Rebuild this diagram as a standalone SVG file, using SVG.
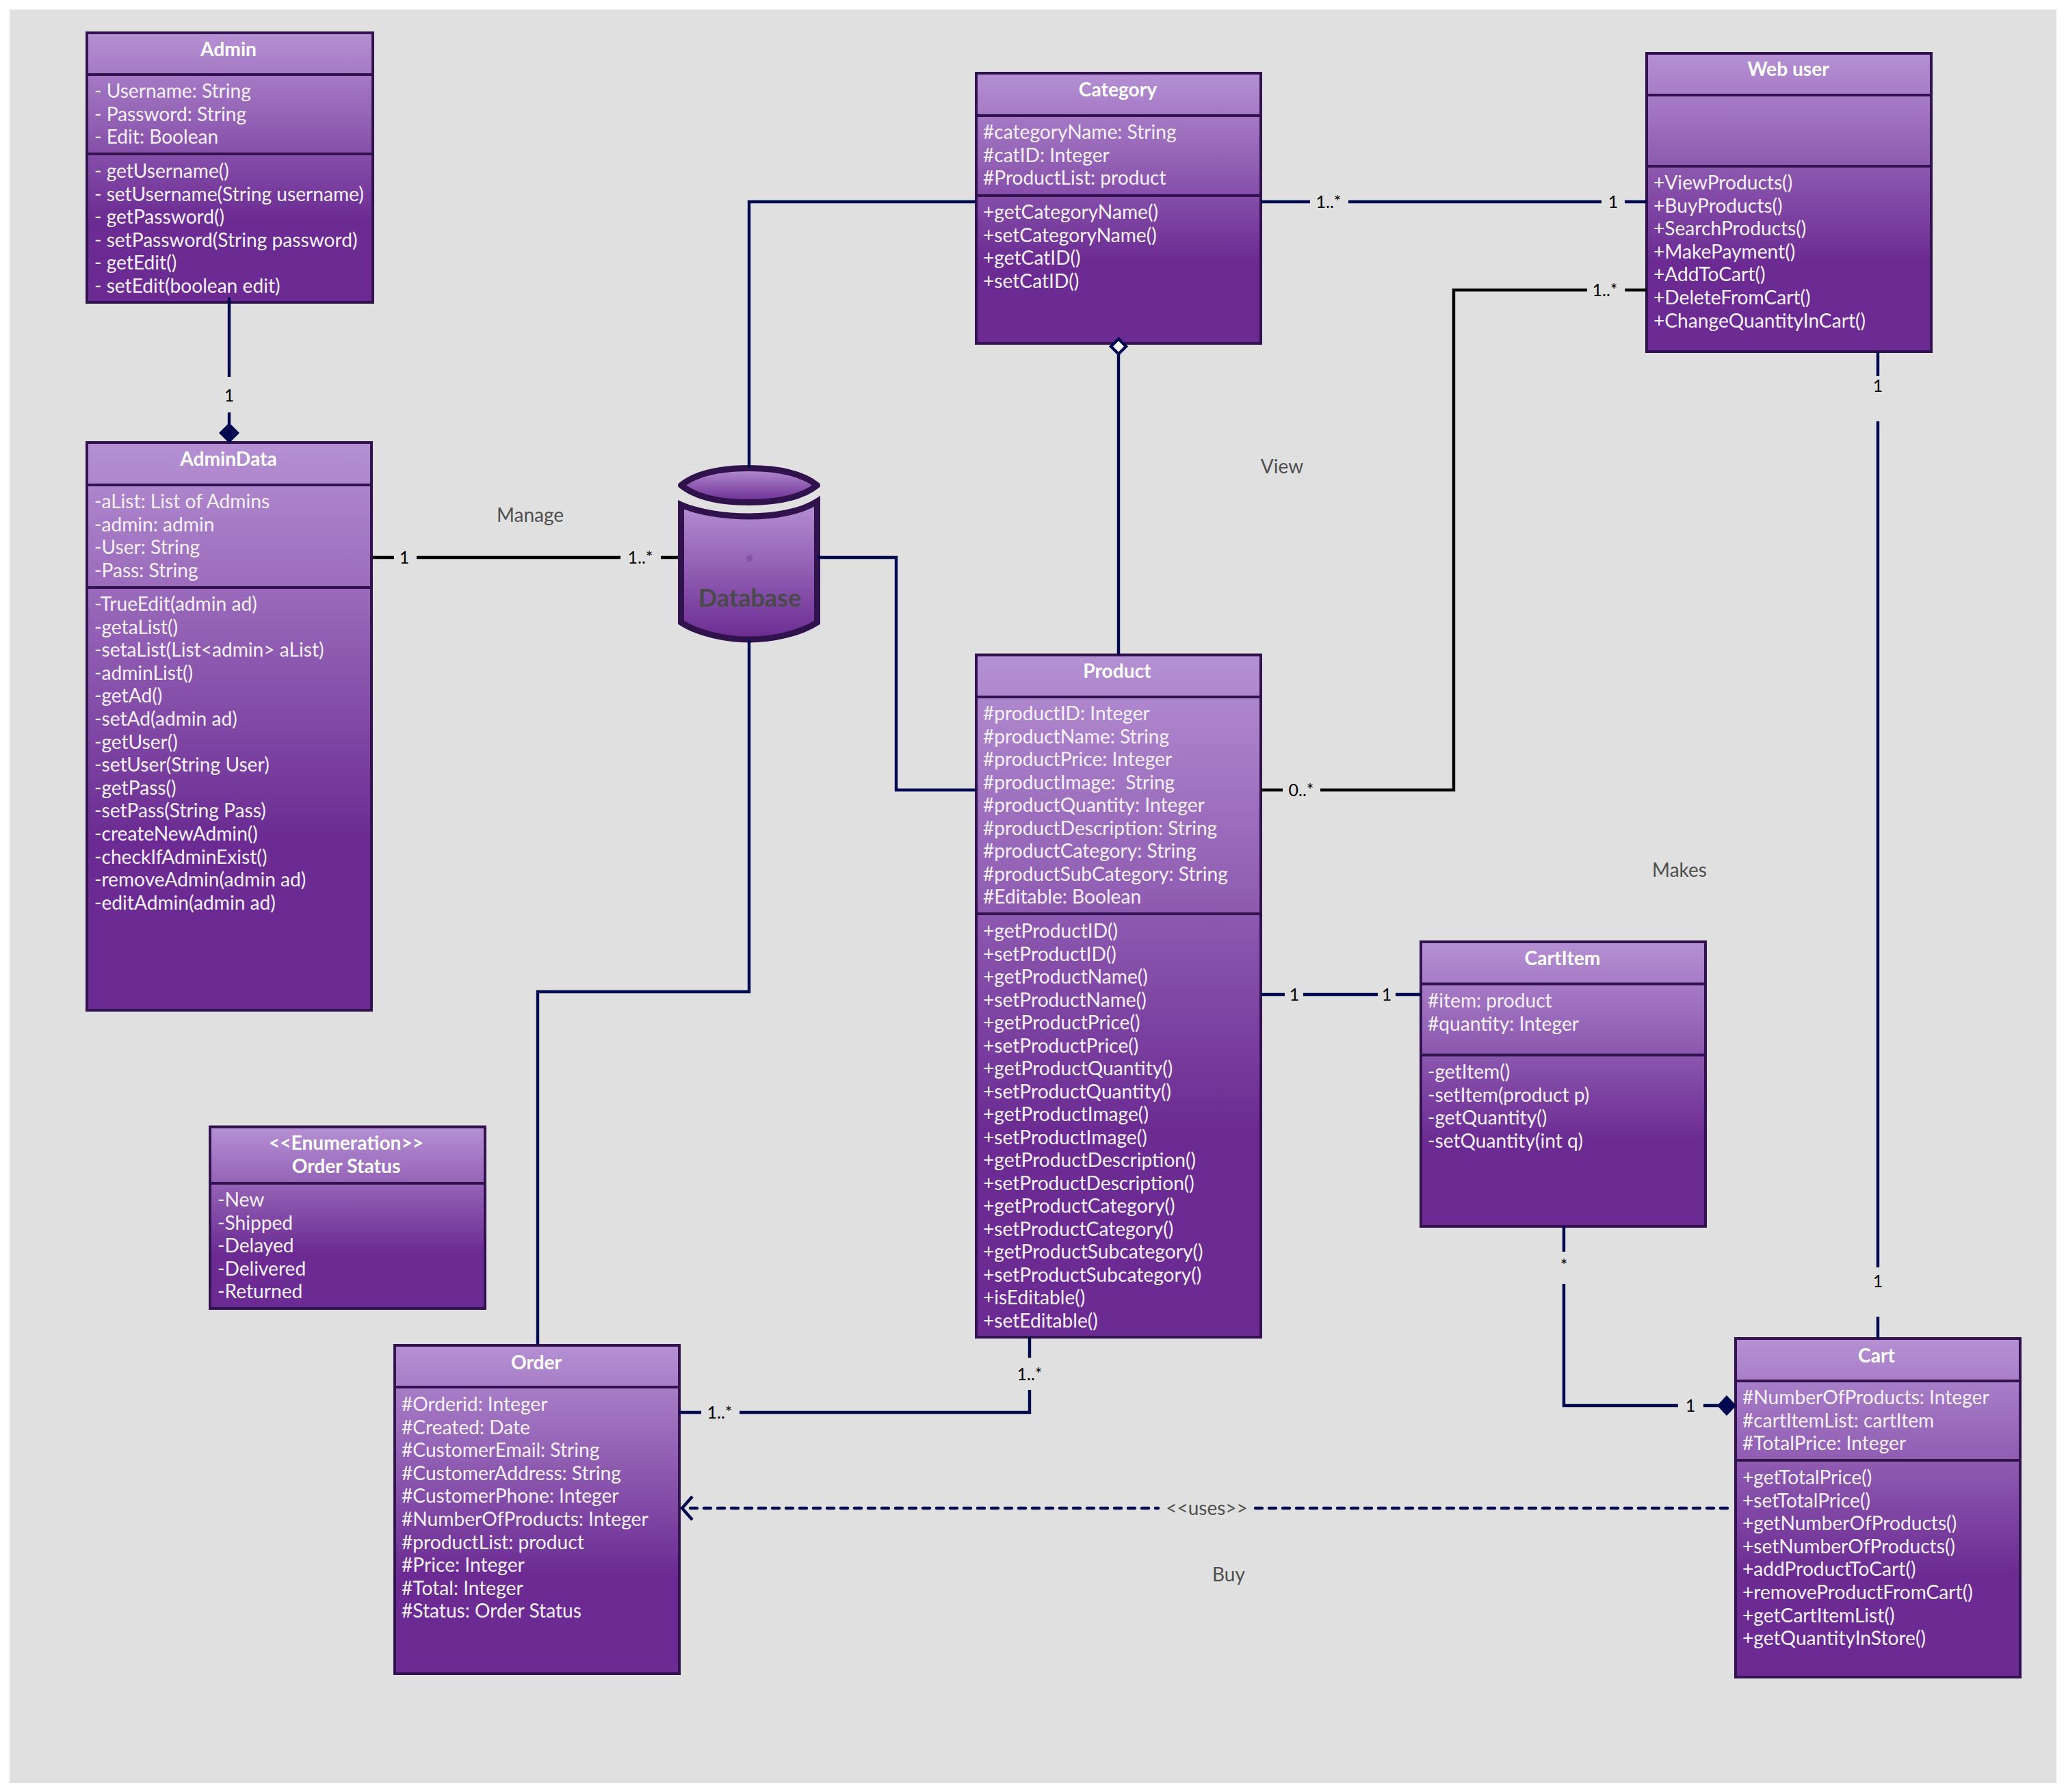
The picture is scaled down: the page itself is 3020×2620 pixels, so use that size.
<svg xmlns="http://www.w3.org/2000/svg" width="3020" height="2620" viewBox="0 0 3020 2620">
<style>
text{font-family:Lato,"Open Sans",sans-serif}
.b{fill:url(#g);stroke:#33134f;stroke-width:4}
.s{stroke:#33134f;stroke-width:4;fill:none}
.t{font-size:28.200px;font-weight:700;fill:#fff;text-anchor:middle}
.a{font-size:28.150px;fill:#f6f1f9;white-space:pre}
.l{font-size:28px;fill:#4f4f4f;text-anchor:middle}
.m{font-size:25px;fill:#000;text-anchor:middle}
.c{fill:none;stroke:#00084f;stroke-width:4.400}
.k{fill:none;stroke:#000;stroke-width:4.400}
.dn{transform:translate(0,1px)}
</style>
<defs>
<linearGradient id="g" x1="0" y1="0" x2="0" y2="1"><stop offset="0" stop-color="#b590d3"/><stop offset="0.7" stop-color="#6b2b92"/><stop offset="1" stop-color="#6b2b92"/></linearGradient>
<linearGradient id="d" x1="0" y1="0" x2="0" y2="1"><stop offset="0" stop-color="#b590d3"/><stop offset="1" stop-color="#6b2b92"/></linearGradient>
</defs>
<rect x="14" y="14" width="2992" height="2593" fill="#e0e0e0"/>
<g id="node-admin">
<rect class="b" x="127" y="48" width="418" height="394"/><path class="s" d="M127 109H545M127 225H545"/>
<text class="t" x="334" y="81.500">Admin</text>
<text class="a"><tspan x="138" y="143">- Username: String</tspan><tspan x="138" y="176.500">- Password: String</tspan><tspan x="138" y="210">- Edit: Boolean</tspan><tspan x="138" y="260">- getUsername()</tspan><tspan x="138" y="293.600">- setUsername(String username)</tspan><tspan x="138" y="327.200">- getPassword()</tspan><tspan x="138" y="360.800">- setPassword(String password)</tspan><tspan x="138" y="394.400">- getEdit()</tspan><tspan x="138" y="428">- setEdit(boolean edit)</tspan></text>
</g>
<g id="node-admindata">
<rect class="b" x="127" y="647" width="416" height="830"/><path class="s" d="M127 709H543M127 859H543"/>
<text class="t" x="334" y="681">AdminData</text>
<text class="a dn"><tspan x="138" y="742">-aList: List of Admins</tspan><tspan x="138" y="775.600">-admin: admin</tspan><tspan x="138" y="809.200">-User: String</tspan><tspan x="138" y="842.800">-Pass: String</tspan><tspan x="138" y="892">-TrueEdit(admin ad)</tspan><tspan x="138" y="925.600">-getaList()</tspan><tspan x="138" y="959.200">-setaList(List&lt;admin&gt; aList)</tspan><tspan x="138" y="992.800">-adminList()</tspan><tspan x="138" y="1026.400">-getAd()</tspan><tspan x="138" y="1060">-setAd(admin ad)</tspan><tspan x="138" y="1093.600">-getUser()</tspan><tspan x="138" y="1127.200">-setUser(String User)</tspan><tspan x="138" y="1160.800">-getPass()</tspan><tspan x="138" y="1194.400">-setPass(String Pass)</tspan><tspan x="138" y="1228">-createNewAdmin()</tspan><tspan x="138" y="1261.600">-checkIfAdminExist()</tspan><tspan x="138" y="1295.200">-removeAdmin(admin ad)</tspan><tspan x="138" y="1328.800">-editAdmin(admin ad)</tspan></text>
</g>
<g id="node-enumeration">
<rect class="b" x="307" y="1647.500" width="402" height="265.500"/><path class="s" d="M307 1730H709"/>
<text class="t"><tspan x="506" y="1681">&lt;&lt;Enumeration&gt;&gt;</tspan><tspan x="506" y="1715">Order Status</tspan></text>
<text class="a dn"><tspan x="318" y="1763">-New</tspan><tspan x="318" y="1796.600">-Shipped</tspan><tspan x="318" y="1830.200">-Delayed</tspan><tspan x="318" y="1863.800">-Delivered</tspan><tspan x="318" y="1897.400">-Returned</tspan></text>
</g>
<g id="node-order">
<rect class="b" x="577" y="1967" width="416" height="480"/><path class="s" d="M577 2028H993"/>
<text class="t" x="784" y="2001.500">Order</text>
<text class="a dn"><tspan x="587" y="2062">#Orderid: Integer</tspan><tspan x="587" y="2095.600">#Created: Date</tspan><tspan x="587" y="2129.200">#CustomerEmail: String</tspan><tspan x="587" y="2162.800">#CustomerAddress: String</tspan><tspan x="587" y="2196.400">#CustomerPhone: Integer</tspan><tspan x="587" y="2230">#NumberOfProducts: Integer</tspan><tspan x="587" y="2263.600">#productList: product</tspan><tspan x="587" y="2297.200">#Price: Integer</tspan><tspan x="587" y="2330.800">#Total: Integer</tspan><tspan x="587" y="2364.400">#Status: Order Status</tspan></text>
</g>
<g id="node-database">
<path d="M995.500 738C1020 749 1060 755 1095 755C1130 755 1170 749 1194.500 733V910C1170 926 1130 935 1095 935C1060 935 1020 926 995.500 910Z" fill="url(#d)" stroke="#30124c" stroke-width="9"/>
<path d="M995.500 709.500C1020 690 1060 684.500 1095 684.500C1130 684.500 1170 690 1194.500 709.500C1170 729 1130 734.500 1095 734.500C1060 734.500 1020 729 995.500 709.500Z" fill="url(#d)" stroke="#30124c" stroke-width="9" stroke-linejoin="round"/>
<polygon points="1091,813 1099,811 1100,819 1092,822" fill="#8850a8"/>
<text x="1096" y="886.500" font-size="36" font-weight="700" fill="#4a4a4a" text-anchor="middle">Database</text>
</g>
<g id="node-category">
<rect class="b" x="1427" y="107" width="416" height="395"/><path class="s" d="M1427 169H1843M1427 286H1843"/>
<text class="t" x="1634" y="141">Category</text>
<text class="a"><tspan x="1437" y="203">#categoryName: String</tspan><tspan x="1437" y="236.600">#catID: Integer</tspan><tspan x="1437" y="270.200">#ProductList: product</tspan><tspan x="1437" y="320">+getCategoryName()</tspan><tspan x="1437" y="353.600">+setCategoryName()</tspan><tspan x="1437" y="387.200">+getCatID()</tspan><tspan x="1437" y="420.800">+setCatID()</tspan></text>
</g>
<g id="node-webuser">
<rect class="b" x="2407" y="78" width="416" height="436"/><path class="s" d="M2407 139H2823M2407 243H2823"/>
<text class="t" x="2614" y="111">Web user</text>
<text class="a"><tspan x="2417" y="277">+ViewProducts()</tspan><tspan x="2417" y="310.600">+BuyProducts()</tspan><tspan x="2417" y="344.200">+SearchProducts()</tspan><tspan x="2417" y="377.800">+MakePayment()</tspan><tspan x="2417" y="411.400">+AddToCart()</tspan><tspan x="2417" y="445">+DeleteFromCart()</tspan><tspan x="2417" y="478.600">+ChangeQuantityInCart()</tspan></text>
</g>
<g id="node-product">
<rect class="b" x="1427" y="957.500" width="416" height="997.500"/><path class="s" d="M1427 1019H1843M1427 1336H1843"/>
<text class="t" x="1633" y="991">Product</text>
<text class="a"><tspan x="1437" y="1053">#productID: Integer</tspan><tspan x="1437" y="1086.500">#productName: String</tspan><tspan x="1437" y="1120">#productPrice: Integer</tspan><tspan x="1437" y="1153.500">#productImage:  String</tspan><tspan x="1437" y="1187">#productQuantity: Integer</tspan><tspan x="1437" y="1220.500">#productDescription: String</tspan><tspan x="1437" y="1254">#productCategory: String</tspan><tspan x="1437" y="1287.500">#productSubCategory: String</tspan><tspan x="1437" y="1321">#Editable: Boolean</tspan><tspan x="1437" y="1371">+getProductID()</tspan><tspan x="1437" y="1404.500">+setProductID()</tspan><tspan x="1437" y="1438">+getProductName()</tspan><tspan x="1437" y="1471.500">+setProductName()</tspan><tspan x="1437" y="1505">+getProductPrice()</tspan><tspan x="1437" y="1538.500">+setProductPrice()</tspan><tspan x="1437" y="1572">+getProductQuantity()</tspan><tspan x="1437" y="1605.500">+setProductQuantity()</tspan><tspan x="1437" y="1639">+getProductImage()</tspan><tspan x="1437" y="1672.500">+setProductImage()</tspan><tspan x="1437" y="1706">+getProductDescription()</tspan><tspan x="1437" y="1739.500">+setProductDescription()</tspan><tspan x="1437" y="1773">+getProductCategory()</tspan><tspan x="1437" y="1806.500">+setProductCategory()</tspan><tspan x="1437" y="1840">+getProductSubcategory()</tspan><tspan x="1437" y="1873.500">+setProductSubcategory()</tspan><tspan x="1437" y="1907">+isEditable()</tspan><tspan x="1437" y="1940.500">+setEditable()</tspan></text>
</g>
<g id="node-cartitem">
<rect class="b" x="2077" y="1377" width="416" height="416"/><path class="s" d="M2077 1438.500H2493M2077 1542.500H2493"/>
<text class="t" x="2284" y="1411">CartItem</text>
<text class="a"><tspan x="2087" y="1473">#item: product</tspan><tspan x="2087" y="1506.600">#quantity: Integer</tspan><tspan x="2087" y="1577">-getItem()</tspan><tspan x="2087" y="1610.600">-setItem(product p)</tspan><tspan x="2087" y="1644.200">-getQuantity()</tspan><tspan x="2087" y="1677.800">-setQuantity(int q)</tspan></text>
</g>
<g id="node-cart">
<rect class="b" x="2537" y="1957" width="416" height="495"/><path class="s" d="M2537 2019H2953M2537 2135H2953"/>
<text class="t" x="2743" y="1991.500">Cart</text>
<text class="a dn"><tspan x="2547" y="2052">#NumberOfProducts: Integer</tspan><tspan x="2547" y="2085.600">#cartItemList: cartItem</tspan><tspan x="2547" y="2119.200">#TotalPrice: Integer</tspan><tspan x="2547" y="2169">+getTotalPrice()</tspan><tspan x="2547" y="2202.600">+setTotalPrice()</tspan><tspan x="2547" y="2236.200">+getNumberOfProducts()</tspan><tspan x="2547" y="2269.800">+setNumberOfProducts()</tspan><tspan x="2547" y="2303.400">+addProductToCart()</tspan><tspan x="2547" y="2337">+removeProductFromCart()</tspan><tspan x="2547" y="2370.600">+getCartItemList()</tspan><tspan x="2547" y="2404">+getQuantityInStore()</tspan></text>
</g>
<g id="connectors">
<path class="c" d="M335 435V551M335 603V620"/><polygon points="335,618 350,633 335,648 320,633" fill="#00084f"/>
<path class="k" d="M545 815H576M609 815H907M966 815H991"/>
<path class="c" d="M1427 295H1095V684"/>
<path class="c" d="M1195 815H1310V1155H1427"/>
<path class="c" d="M1095 935V1450H786V1966"/>
<path class="c" d="M1635 518V957"/><polygon points="1635,495.500 1646,506.500 1635,517.500 1624,506.500" fill="#fff" stroke="#00084f" stroke-width="4.300"/>
<path class="c" d="M1843 295H1915M1971 295H2341M2375 295H2407"/>
<path class="k" d="M1843 1155H1875M1930 1155H2125V424H2320M2375 424H2407"/>
<path class="c" d="M2745 514V550M2745 616V1853M2745 1925V1957"/>
<path class="c" d="M1843 1454H1878M1905 1454H2014M2040 1454H2077"/>
<path class="c" d="M2286 1793V1830M2286 1877V2055H2453M2490 2055H2512"/><polygon points="2524,2040 2538,2055 2524,2070 2510,2055" fill="#00084f"/>
<path class="c" d="M993 2065H1025M1081 2065H1505V2032M1505 1985V1955"/>
<path class="c" stroke-dasharray="10 10" stroke-linecap="round" d="M1009 2205H1693M1835 2205H2535"/>
<path class="c" d="M1012 2188L997 2205L1012 2222"/>
</g>
<g id="labels">
<text class="m" x="335" y="587">1</text><text class="m" x="591" y="824">1</text><text class="m" x="936" y="824">1..*</text>
<text class="m" x="1942" y="304">1..*</text><text class="m" x="2358" y="304">1</text>
<text class="m" x="1902" y="1164">0..*</text><text class="m" x="2346" y="433">1..*</text>
<text class="m" x="2745" y="573">1</text><text class="m" x="2745" y="1882">1</text>
<text class="m" x="1892" y="1463">1</text><text class="m" x="2027" y="1463">1</text>
<text class="m" x="2286" y="1859">*</text><text class="m" x="2471" y="2064">1</text>
<text class="m" x="1052" y="2074">1..*</text><text class="m" x="1505" y="2018">1..*</text>
<text class="l" x="1764" y="2215">&lt;&lt;uses&gt;&gt;</text>
<text class="l" x="775" y="762.500">Manage</text><text class="l" x="1874" y="692">View</text><text class="l" x="2455" y="1282">Makes</text><text class="l" x="1796" y="2312">Buy</text>
</g>
</svg>
